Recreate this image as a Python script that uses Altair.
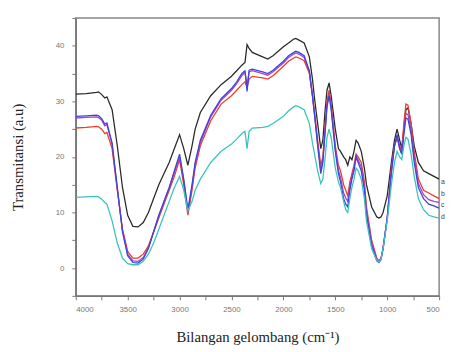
import altair as alt
import pandas as pd

wn = [4000, 3900, 3800, 3780, 3750, 3720, 3700, 3650, 3600, 3550, 3500, 3450, 3400, 3350, 3300,
      3250, 3200, 3150, 3100, 3050, 3000, 2960, 2920, 2880, 2850, 2800, 2700, 2600, 2500, 2450,
      2400, 2370, 2350, 2330, 2300, 2200, 2150, 2100, 2000, 1950, 1900, 1880, 1850, 1800, 1750,
      1720, 1700, 1670, 1640, 1620, 1600, 1580, 1560, 1540, 1500, 1470, 1450, 1420, 1400, 1380,
      1360, 1340, 1320, 1300, 1280, 1250, 1220, 1200, 1150, 1100, 1080, 1060, 1040, 1000, 960,
      930, 905, 880, 860, 840, 820, 800, 770, 740, 700, 650, 600, 550, 500]

a_black = [31.3, 31.4, 31.6, 31.7, 31.2, 30.6, 30.8, 28.5, 22, 14.5, 9.5, 7.5, 7.4, 8.2, 10,
           12.5, 15, 17, 19, 21.5, 24, 21.5, 18.5, 22, 25, 28, 31, 33, 34.5, 35.5,
           36.5, 37, 40.2, 39.5, 38.8, 38, 37.6, 38.2, 39.8, 40.5, 41.2, 41.3, 41, 40.5, 38,
           34, 30.5, 26, 21.5, 23, 28, 32, 33.3, 31, 25, 21.5, 21, 20, 19.5, 18.5,
           20, 19.5, 21, 23, 22.5, 21, 18, 15, 11, 9.2, 9, 9.2, 10, 13, 19,
           23, 25, 23, 21.5, 25, 28.5, 28.8, 26, 22, 19, 17.5, 17, 16.5, 16]

b_red = [25.2, 25.3, 25.5, 25.4, 25, 24.2, 24.4, 21.5, 14, 7, 3, 1.8, 1.8, 2.5, 4,
         6.5, 9, 11.5, 14, 16.5, 19.5, 15, 9.5, 14, 18, 22, 26.5, 29.5, 31, 32,
         33, 33.5, 32.5, 34, 34.5, 34.2, 34, 34.6, 36.3, 37.2, 37.8, 38, 37.8, 37.3, 35,
         31, 28, 23, 18.5, 20, 25, 30, 32, 29.5, 22, 18.5, 17.5, 15, 14, 13,
         15.5, 17, 18.5, 20.5, 20, 19, 15.5, 11, 5, 1.8, 1.3, 1.8, 3.5, 9, 18,
         22, 23.5, 22, 21, 26, 29.5, 29.3, 26, 21, 16, 14, 13.5, 13, 12.5]

c_magenta = [27.0, 27.1, 27.2, 27.1, 26.6, 25.6, 25.8, 22.3, 14.3, 6.8, 2.5, 1.3, 1.2, 1.9, 3.7,
             6.6, 9.4, 12, 14.4, 17.2, 20, 15.7, 10, 14.6, 18.6, 22.6, 27.2, 30.2, 32, 33.2,
             34.6, 35.2, 33, 35.3, 35.5, 35, 34.7, 35.3, 36.9, 37.9, 38.5, 38.7, 38.5, 37.9, 35.3,
             31, 27.7, 22.4, 17.5, 19.4, 24.4, 29.4, 31.3, 29, 21.5, 17.6, 16.3, 13.5, 12.6, 12,
             14.6, 16.5, 18, 20.2, 19.5, 18.2, 14.8, 10.3, 4.5, 1.5, 1.2, 1.7, 3.6, 9, 17.5,
             22, 23.5, 21.5, 20.5, 24.5, 27.8, 27.6, 24.8, 20, 15.2, 13.2, 12.3, 12, 11.8]

d_blue = [27.3, 27.4, 27.5, 27.4, 26.9, 25.9, 26.1, 22.5, 14.5, 6.5, 2.2, 1, 0.9, 1.6, 3.5,
          6.5, 9.5, 12, 14.5, 17.5, 20.5, 16, 10.5, 15, 19, 23, 27.5, 30.5, 32.3, 33.5,
          35, 35.5, 31.8, 35.6, 35.8, 35.3, 35, 35.6, 37.2, 38.2, 38.8, 39, 38.8, 38.2, 35.5,
          31, 27.5, 22, 17, 19, 24, 29, 31, 28.5, 21, 17, 15.5, 12.5, 11.5, 11,
          14, 16, 17.5, 20, 19, 17.5, 14, 9.5, 4, 1.3, 1, 1.5, 3.5, 9, 17,
          22, 24, 21.5, 20.5, 24, 27, 26.8, 24, 19, 14.5, 12.5, 11.5, 11.2, 10.8]

e_cyan = [12.7, 12.8, 12.9, 12.8, 12.4, 11.8, 11.5, 8.5, 4.5, 1.8, 0.8, 0.6, 0.6, 1.2, 2.5,
          4.5, 7, 9.5, 12, 14.5, 16.5, 14, 10.3, 12, 14, 16, 19, 21, 22.3, 23.2,
          24.2, 24.6, 21.5, 24.6, 25.2, 25.3, 25.5, 26, 27.3, 28.3, 29, 29.2, 29, 28.5, 26,
          22.5, 20.5, 17.5, 15.2, 16, 19.5, 23.5, 25, 23.5, 18, 15.5, 14.5, 12, 10.5, 10,
          12.5, 14.5, 16, 18, 17.5, 16, 12.5, 8.5, 3.5, 1.3, 1.1, 1.6, 3.5, 8.5, 15,
          19, 21, 20, 19.5, 22, 23.5, 23.2, 20.5, 16.5, 12.5, 10.5, 9.5, 9.2, 9]

series_names = ["a", "b", "c", "d", "e"]
series_colors = ["#2a2a2a", "#e5412d", "#b03cc8", "#3a46d6", "#3cc2be"]
series_values = [a_black, b_red, c_magenta, d_blue, e_cyan]

label_text = ["a", "b", "c", "d"]
label_y = [15.4, 13.4, 11.3, 9.2]

rows = []
for name, vals in zip(series_names, series_values):
    for w, v in zip(wn, vals):
        rows.append({"wn": w, "v": v, "series": name})
df = pd.DataFrame(rows)
lab_df = pd.DataFrame({"lab": label_text, "v": label_y})

x_enc = alt.X(
    "wn:Q",
    scale=alt.Scale(domain=[500, 4000], reverse=True, nice=False, zero=False),
    axis=alt.Axis(
        values=list(range(500, 4001, 250)),
        labelExpr="datum.value % 500 == 0 ? datum.label : ''",
        format="d",
        title="Bilangan gelombang (cm⁻¹)",
        titlePadding=16,
        labelPadding=6,
    ),
)
y_enc = alt.Y(
    "v:Q",
    scale=alt.Scale(domain=[-5, 45], nice=False, zero=False),
    axis=alt.Axis(
        values=list(range(-5, 46, 5)),
        labelExpr="datum.value % 10 == 0 ? datum.label : ''",
        title="Transmitansi (a.u)",
        titlePadding=30,
        labelPadding=8,
    ),
)

lines = alt.Chart(df).mark_line(strokeWidth=1.3, clip=True).encode(
    x=x_enc,
    y=y_enc,
    color=alt.Color("series:N",
                    scale=alt.Scale(domain=series_names, range=series_colors),
                    legend=None),
    order=alt.Order("wn:Q"),
)

labels = alt.Chart(lab_df).mark_text(
    align="left", baseline="middle", fontSize=7, font="Liberation Sans", color="#444"
).encode(
    x=alt.value(372),
    y=y_enc,
    text="lab:N",
)

chart = alt.layer(lines, labels).properties(
    width=370,
    height=283,
    autosize=alt.AutoSizeParams(type="none"),
    padding={"left": 69, "top": 7, "right": 7, "bottom": 52},
).configure_view(
    stroke="#888888", strokeWidth=1.5
).configure_axis(
    grid=False,
    domainColor="#777777",
    domainWidth=1.5,
    tickColor="#777777",
    tickSize=4,
    labelFont="Liberation Sans",
    labelFontSize=8,
    labelColor="#777777",
    titleFont="Liberation Serif",
    titleFontSize=15,
    titleFontWeight="normal",
    titleColor="#222222",
)

chart.save("out.html", embed_options={"renderer": "svg", "actions": False})
